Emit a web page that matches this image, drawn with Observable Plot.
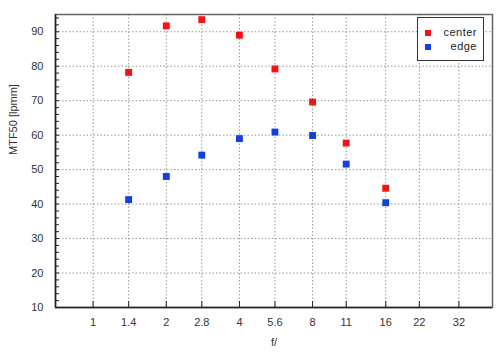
<!DOCTYPE html>
<html>
<head>
<meta charset="utf-8">
<script src="https://cdn.jsdelivr.net/npm/d3@7"></script>
<script src="https://cdn.jsdelivr.net/npm/@observablehq/plot@0.6"></script>
<style>
  html, body { margin: 0; padding: 0; background: #fff; }
  #wrap { position: relative; width: 500px; height: 360px; font-family: "Liberation Sans", Arial, sans-serif; }
  #legend { position: absolute; left: 417px; top: 17px; width: 67px; height: 44px; border: 1px solid #333; background: #fff; box-sizing: border-box; font-size: 11px; color: #222; }
  .row { position: absolute; left: 0; right: 0; height: 14px; }
  .sw { position: absolute; left: 7px; top: 4px; width: 6px; height: 6px; }
  .lab { position: absolute; right: 6px; top: 0; letter-spacing: 0.5px; }
</style>
</head>
<body>
<div id="wrap"></div>
<script>
const fstops = [1.4, 2, 2.8, 4, 5.6, 8, 11, 16];
const center = [78.2, 91.7, 93.5, 89.0, 79.2, 69.6, 57.7, 44.6];
const edge = [41.3, 48.0, 54.2, 59.0, 60.9, 59.9, 51.6, 40.4];
const xTicks = [1, 1.4, 2, 2.8, 4, 5.6, 8, 11, 16, 22, 32];
const yTicks = [10, 20, 30, 40, 50, 60, 70, 80, 90];
const series = ["center", "edge"];
const colors = ["#f21414", "#1240e0"];

const data = [];
fstops.forEach((f, i) => {
  data.push({f, v: center[i], s: series[0]});
  data.push({f, v: edge[i], s: series[1]});
});

const chart = Plot.plot({
  width: 500,
  height: 360,
  marginLeft: 55,
  marginRight: 8,
  marginTop: 14,
  marginBottom: 53,
  style: {fontFamily: "Liberation Sans, Arial, sans-serif", fontSize: "11px", color: "#333"},
  x: {type: "log", domain: [0.7, 44]},
  y: {domain: [10, 95]},
  color: {domain: series, range: colors},
  marks: [
    Plot.gridY(yTicks, {stroke: "#999", strokeOpacity: 1, strokeDasharray: "1.5,2"}),
    Plot.gridX(xTicks, {stroke: "#999", strokeOpacity: 1, strokeDasharray: "1.5,2"}),
    Plot.frame({stroke: "#666", strokeWidth: 1.5}),
    Plot.ruleY([10], {stroke: "#222", strokeWidth: 1.5}),
    Plot.ruleX([0.7], {stroke: "#222", strokeWidth: 1.5}),
    Plot.axisY(d3.range(10, 96, 2), {anchor: "left", tickSize: -4, text: null, label: null, stroke: "#222"}),
    Plot.axisY(yTicks, {anchor: "left", tickSize: 0, tickPadding: 12, label: null, fill: "#333"}),
    Plot.axisX(xTicks, {anchor: "bottom", tickSize: -6, text: null, label: "f/", labelAnchor: "center", labelArrow: "none", labelOffset: 38, stroke: "#222"}),
    Plot.text(xTicks, {x: d => d, text: d => String(d), frameAnchor: "bottom", dy: 15, lineAnchor: "middle", fill: "#333", fontSize: 11}),
    Plot.text(["MTF50 [lpmm]"], {frameAnchor: "left", dx: -42, dy: -6, rotate: -90, fill: "#333", fontSize: 11}),
    Plot.dot(data, {x: "f", y: "v", fill: "s", symbol: "square", r: 3.9})
  ]
});

const wrap = document.getElementById("wrap");
wrap.appendChild(chart);

const legend = document.createElement("div");
legend.id = "legend";
series.forEach((s, i) => {
  const row = document.createElement("div");
  row.className = "row";
  row.style.top = (8 + i * 14) + "px";
  const sw = document.createElement("div");
  sw.className = "sw";
  sw.style.background = colors[i];
  const lab = document.createElement("div");
  lab.className = "lab";
  lab.textContent = s;
  row.appendChild(sw);
  row.appendChild(lab);
  legend.appendChild(row);
});
wrap.appendChild(legend);
</script>
</body>
</html>
